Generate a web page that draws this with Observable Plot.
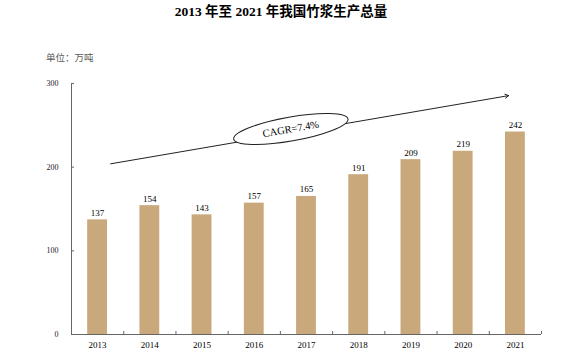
<!DOCTYPE html>
<html><head><meta charset="utf-8">
<script src="https://cdn.jsdelivr.net/npm/d3@7"></script>
<script src="https://cdn.jsdelivr.net/npm/@observablehq/plot@0.6"></script>
<style>
body{margin:0;background:#fff;width:562px;height:359px;overflow:hidden}
#title{height:50px;line-height:53px;text-align:center;font:bold 13.5px "Liberation Serif","Noto Sans CJK SC",serif;color:#000}
#unit{height:25px;line-height:28px;padding-left:46px;font:9.5px "Noto Sans CJK SC",serif;color:#595959}
</style></head>
<body>
<div id="title">2013 年至 2021 年我国竹浆生产总量</div>
<div id="unit">单位：万吨</div>
<div id="chart"></div>
<script>
const years = [2013, 2014, 2015, 2016, 2017, 2018, 2019, 2020, 2021];
const output = [137, 154, 143, 157, 165, 191, 209, 219, 242];
const yTicks = [0, 100, 200, 300];
const bandEdges = [2012.5, 2013.5, 2014.5, 2015.5, 2016.5, 2017.5, 2018.5, 2019.5, 2020.5, 2021.5];
const trendStart = [2013.25, 204];
const trendEnd = [2020.87, 285.5];
const cagrLabel = ["CAGR=7.4%"];
const cagrPos = [2016.7, 245.6];

const data = years.map((y, i) => ({year: y, value: output[i]}));
const half = 0.19;

const ellipseSymbol = {
  draw(ctx) {
    const rx = 58, ry = 12, k = 0.5523;
    ctx.moveTo(-rx, 0);
    ctx.bezierCurveTo(-rx, -ry * k, -rx * k, -ry, 0, -ry);
    ctx.bezierCurveTo(rx * k, -ry, rx, -ry * k, rx, 0);
    ctx.bezierCurveTo(rx, ry * k, rx * k, ry, 0, ry);
    ctx.bezierCurveTo(-rx * k, ry, -rx, ry * k, -rx, 0);
    ctx.closePath();
  }
};

const chart = Plot.plot({
  width: 562,
  height: 284,
  marginLeft: 71,
  marginRight: 21,
  marginTop: 8,
  marginBottom: 25,
  style: {fontFamily: "'Liberation Serif', serif", fontSize: "9px", background: "#fff", color: "#000"},
  x: {domain: [2012.5, 2021.5], axis: null, label: null},
  y: {domain: [0, 300], axis: null, label: null},
  marks: [
    Plot.rectY(data, {x1: d => d.year - half, x2: d => d.year + half, y: "value", fill: "#C9A97B"}),
    Plot.text(data, {x: "year", y: "value", text: d => String(d.value), lineAnchor: "bottom", dy: -4, fill: "#000", fontSize: 9}),
    Plot.ruleX([2012.5], {stroke: "#666", strokeWidth: 1}),
    Plot.ruleY([0], {stroke: "#666", strokeWidth: 1}),
    Plot.axisY(yTicks, {anchor: "left", label: null, tickSize: -3, tickPadding: 16, stroke: "#666", fill: "#222", fontSize: 8, tickFormat: d => String(d)}),
    Plot.axisX(bandEdges, {anchor: "bottom", label: null, tickSize: -3, stroke: "#666", tickFormat: () => ""}),
    Plot.axisX(years, {anchor: "bottom", label: null, tickSize: 0, tickPadding: 7, fill: "#000", fontSize: 9, tickFormat: d => String(d)}),
    Plot.arrow([{a: trendStart, b: trendEnd}], {x1: d => d.a[0], y1: d => d.a[1], x2: d => d.b[0], y2: d => d.b[1], stroke: "#222", strokeWidth: 1, headLength: 6}),
    Plot.dot([cagrPos], {x: d => d[0], y: d => d[1], symbol: ellipseSymbol, r: 5, fill: "#fff", stroke: "#222", strokeWidth: 1, rotate: -10}),
    Plot.text(cagrLabel, {x: () => cagrPos[0], y: () => cagrPos[1], text: d => d, rotate: -10, fontSize: 10.5, fill: "#000"})
  ]
});
document.getElementById("chart").appendChild(chart);
</script>
</body></html>
